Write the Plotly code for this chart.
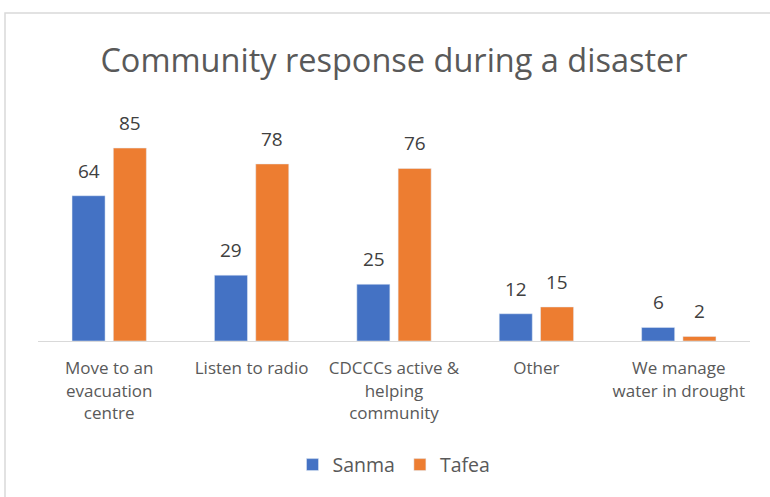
import plotly.graph_objects as go

categories = ["Move to an<br>evacuation<br>centre", "Listen to radio",
              "CDCCCs active &<br>helping<br>community", "Other",
              "We manage<br>water in drought"]
sanma = [64, 29, 25, 12, 6]
tafea = [85, 78, 76, 15, 2]

FONT = "Open Sans, Liberation Sans, sans-serif"

fig = go.Figure()
fig.add_trace(go.Bar(name="Sanma", x=categories, y=sanma, marker_color="#4472C4"))
fig.add_trace(go.Bar(name="Tafea", x=categories, y=tafea, marker_color="#ED7D31"))

for vals, shift in ((sanma, -20.5), (tafea, 20.5)):
    for c, v in zip(categories, vals):
        fig.add_annotation(x=c, y=v, text=str(v), showarrow=False, xref="x", yref="y",
                           xshift=shift, yshift=10, yanchor="bottom",
                           font=dict(size=19, color="#404040", family=FONT))

fig.update_layout(
    width=770, height=497,
    margin=dict(l=38, r=20, t=114, b=156),
    paper_bgcolor="white", plot_bgcolor="white",
    barmode="group", bargap=0.42, bargroupgap=0.2,
    title=dict(text="Community response during a disaster", x=0.5, xanchor="center",
               y=1 - 61/497, yanchor="middle", xref="paper",
               font=dict(size=32.5, color="#595959", family=FONT)),
    xaxis=dict(showline=True, linecolor="#d9d9d9", linewidth=1, ticks="",
               ticklabelstandoff=12,
               tickfont=dict(size=17, color="#595959", family=FONT), showgrid=False),
    yaxis=dict(range=[0, 100], visible=False, showgrid=False),
    legend=dict(orientation="h", x=0.5, xanchor="center", y=-0.546, yanchor="middle",
                font=dict(size=19.5, color="#595959", family=FONT), itemwidth=30),
    showlegend=True,
)
fig.add_shape(type="rect", xref="paper", yref="paper",
              x0=(5-38)/712, x1=1.2, y0=-0.9, y1=(341-13)/227,
              line=dict(color="#d9d9d9", width=1.5), fillcolor="rgba(0,0,0,0)", layer="below")

fig.write_html("out.html")
